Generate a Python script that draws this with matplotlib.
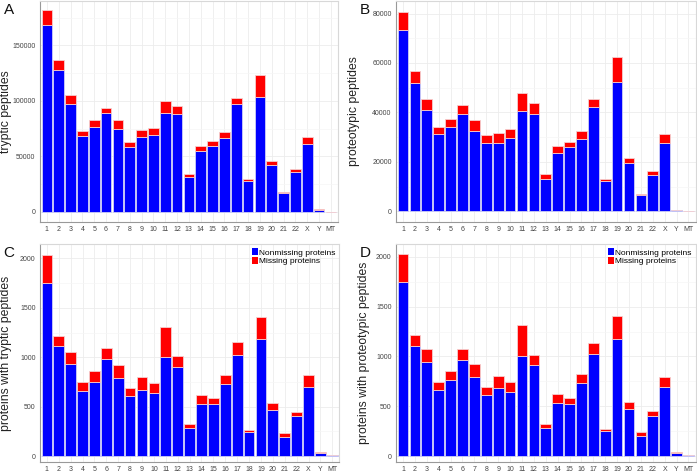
import matplotlib
matplotlib.use("Agg")
import matplotlib.pyplot as plt
from matplotlib.patches import Patch
from matplotlib.ticker import MultipleLocator
import numpy as np

plt.rcParams["font.family"] = ["Liberation Sans", "DejaVu Sans"]

chromosomes = [str(i) for i in range(1, 23)] + ["X", "Y", "MT"]

# A: tryptic peptides
a_nonmissing = [168000, 128100, 97400, 68500, 76600, 88700, 74800, 58600, 67000, 69400,
                89000, 88100, 31000, 54400, 59500, 66700, 96800, 27400, 103100, 41800,
                16800, 35500, 61300, 2100, 300]
a_missing = [13500, 9000, 8100, 4500, 5800, 5100, 8200, 4500, 6900, 5700,
             10800, 7500, 3000, 4500, 4500, 5100, 5400, 2100, 20100, 3600,
             900, 3000, 6000, 300, 0]

# B: proteotypic peptides
b_nonmissing = [73400, 51800, 40800, 31300, 34000, 39200, 32500, 27800, 27700, 29800,
                40400, 39200, 12900, 23400, 25800, 29300, 42000, 12100, 52200, 19500,
                6600, 14800, 27800, 300, 50]
b_missing = [7400, 5000, 4800, 2700, 3400, 3800, 4400, 3100, 3800, 3400,
             7500, 4400, 2100, 2800, 2100, 3200, 3400, 900, 10400, 2200,
             500, 1300, 3600, 100, 10]

# C: proteins with tryptic peptides
c_nonmissing = [1750, 1110, 931, 658, 752, 985, 793, 604, 668, 637,
                998, 904, 280, 526, 526, 732, 1022, 246, 1180, 465,
                189, 401, 695, 27, 10]
c_missing = [284, 104, 125, 87, 105, 111, 128, 84, 131, 105,
             311, 108, 40, 88, 64, 91, 128, 20, 226, 71,
             40, 48, 121, 13, 0]

# D: proteins with proteotypic peptides
d_nonmissing = [1749, 1104, 943, 666, 759, 963, 799, 615, 682, 642,
                1007, 910, 284, 535, 525, 736, 1023, 251, 1177, 472,
                204, 405, 696, 27, 13]
d_missing = [274, 113, 127, 73, 97, 114, 124, 77, 124, 104,
             304, 107, 37, 87, 60, 90, 111, 20, 228, 73,
             37, 47, 100, 13, 0]

panels = [
    ("A", "tryptic peptides", a_nonmissing, a_missing, (-9000, 190000), 50000, False),
    ("B", "proteotypic peptides", b_nonmissing, b_missing, (-4300, 85100), 20000, False),
    ("C", "proteins with tryptic peptides", c_nonmissing, c_missing, (-61, 2144), 500, True),
    ("D", "proteins with proteotypic peptides", d_nonmissing, d_missing, (-60, 2127), 500, True),
]

# axes rectangles in figure fractions (left, bottom, width, height)
rects = [
    (0.057, 0.532, 0.428, 0.466),
    (0.568, 0.532, 0.430, 0.466),
    (0.057, 0.025, 0.430, 0.460),
    (0.568, 0.025, 0.430, 0.460),
]
# y label x positions in axes coordinates
label_x = [-0.094, -0.12, -0.093, -0.087]

fig = plt.figure(figsize=(6.97, 4.74), dpi=100)
x = np.arange(1, len(chromosomes) + 1)

for (letter, ylabel, nonmiss, miss, ylim, step, show_legend), rect, lx in zip(panels, rects, label_x):
    ax = fig.add_axes(rect)
    ax.bar(x, nonmiss, width=0.9, color="#0000ff", edgecolor="#cfcff5", linewidth=0.6,
           zorder=3)
    ax.bar(x, miss, bottom=nonmiss, width=0.9, color="#ff0000", edgecolor="#f5cfcf",
           linewidth=0.6, zorder=3)

    ax.set_xlim(0.4, 25.6)
    ax.set_ylim(*ylim)
    ax.set_xticks(x)
    ax.set_xticklabels(chromosomes)
    ax.yaxis.set_major_locator(MultipleLocator(step))
    ax.yaxis.set_minor_locator(MultipleLocator(step / 2))
    ax.ticklabel_format(axis="y", style="plain", useOffset=False)
    ax.set_yticks([t for t in ax.get_yticks() if 0 <= t <= ylim[1]])

    ax.grid(which="major", color="#ececec", linewidth=0.6, zorder=0)
    ax.grid(which="minor", axis="y", color="#f5f5f5", linewidth=0.5, zorder=0)
    ax.tick_params(axis="both", labelsize=5, colors="#444444", length=0, pad=3)
    ax.tick_params(axis="y", which="minor", length=0)
    for side in ["top", "right"]:
        ax.spines[side].set_color("#d8d8d8")
    for side in ["left", "bottom"]:
        ax.spines[side].set_color("#999999")
    for sp in ax.spines.values():
        sp.set_linewidth(0.8)

    ax.set_ylabel(ylabel, fontsize=8.8, color="#222222")
    ax.yaxis.set_label_coords(lx, 0.5)

    fig.text(rect[0] - 0.052, rect[1] + rect[3] - 0.005, letter, fontsize=11,
             ha="left", va="top", color="#111111")

    if show_legend:
        handles = [Patch(facecolor="#0000ff", edgecolor="none", label="Nonmissing proteins"),
                   Patch(facecolor="#ff0000", edgecolor="none", label="Missing proteins")]
        ax.legend(handles=handles, loc="upper right", fontsize=6, frameon=False,
                  handlelength=0.7, handleheight=0.9, handletextpad=0.15,
                  labelspacing=0.05, borderaxespad=0.3, borderpad=0.2)

plt.savefig("out.png", dpi=100)
plt.close()
